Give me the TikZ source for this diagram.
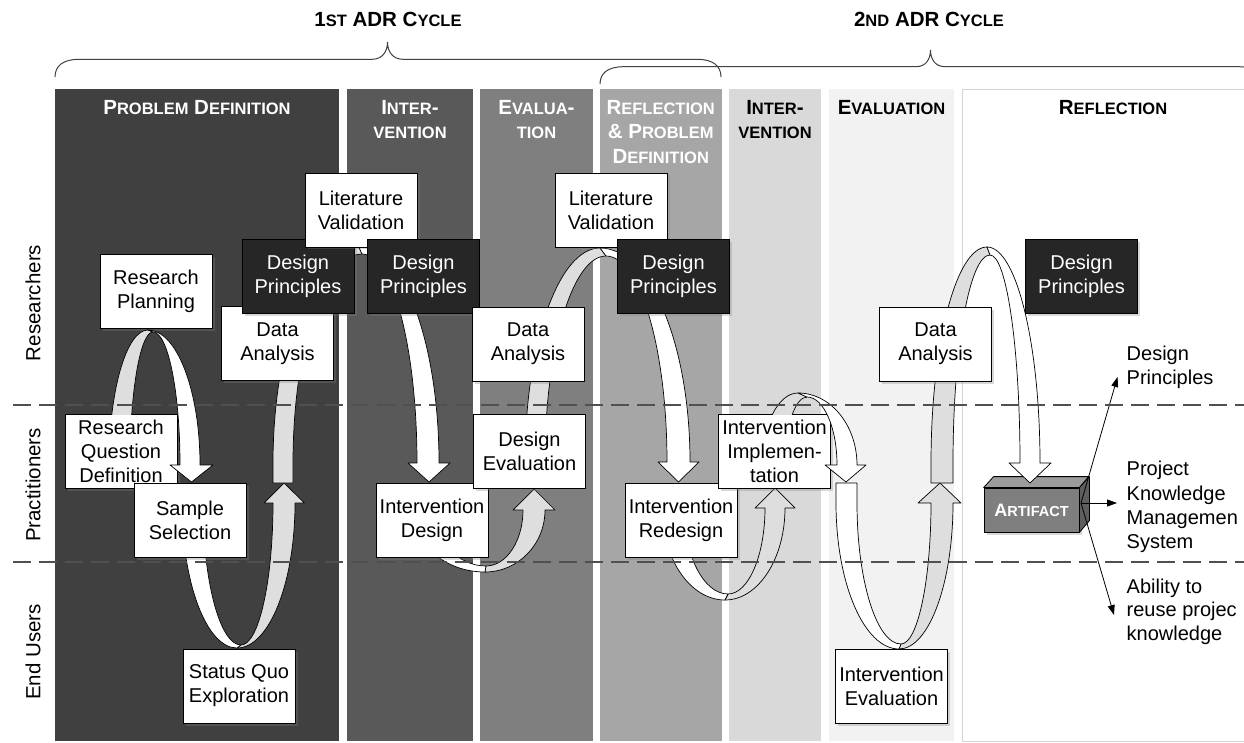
\documentclass[tikz,border=0pt]{standalone}
\usepackage{fontspec}
\setmainfont{Liberation Sans}
\usetikzlibrary{shadows,arrows.meta}
\definecolor{colA}{HTML}{404040}
\definecolor{colB}{HTML}{595959}
\definecolor{colC}{HTML}{7F7F7F}
\definecolor{colD}{HTML}{A6A6A6}
\definecolor{colE}{HTML}{D9D9D9}
\definecolor{colF}{HTML}{F2F2F2}
\definecolor{colG}{HTML}{D4D4D4}
\definecolor{bandgray}{HTML}{DEDEDE}
\definecolor{darkbox}{HTML}{262626}
\definecolor{dashgray}{HTML}{505050}
\definecolor{bracegray}{HTML}{404040}
\definecolor{artfront}{HTML}{7F7F7F}
\definecolor{arttop}{HTML}{9C9C9C}
\definecolor{artside}{HTML}{5E5E5E}
\newcommand\smc[1]{{\fontsize{16.5}{18}\selectfont #1}}
\newcommand\smcA[1]{{\fontsize{14.5}{16}\selectfont #1}}
\def\QV(#1,#2)(#3,#4){.. controls (#1,{#2+0.5523*(#4-#2)}) and ({#3+0.5523*(#1-#3)},#4) .. (#3,#4)}
\def\QH(#1,#2)(#3,#4){.. controls ({#1+0.5523*(#3-#1)},#2) and (#3,{#4+0.5523*(#2-#4)}) .. (#3,#4)}
\tikzset{
  box/.style={draw=black, line width=0.8pt, fill=white, minimum width=112pt, minimum height=74pt,
    inner sep=1pt, align=center, font=\fontsize{20}{24}\selectfont,
    drop shadow={shadow xshift=2.5pt, shadow yshift=-2.5pt, opacity=0.3}},
  dbox/.style={box, fill=darkbox, text=white},
  colhead/.style={anchor=base, inner sep=0pt, font=\bfseries\fontsize{20.5}{24}\selectfont},
  lane/.style={rotate=90, inner sep=0pt, font=\fontsize{20.5}{24}\selectfont},
  outlbl/.style={anchor=base west, inner sep=0pt, font=\fontsize{20}{24}\selectfont},
  bandG/.style={fill=bandgray, draw=black, line width=0.7pt, line join=round},
  bandW/.style={fill=white, draw=black, line width=0.7pt, line join=round},
  lanedash/.style={draw=dashgray, line width=1.2pt, dash pattern=on 18pt off 8pt},
  brace/.style={draw=bracegray, line width=1pt},
  thinarrow/.style={draw=black, line width=0.8pt, -{Triangle[length=10pt,width=7pt]}},
  artf/.style={draw=black, line width=0.8pt, fill=artfront, minimum width=95pt, minimum height=44pt,
    inner sep=0pt, text=white, font=\bfseries\fontsize{18}{20}\selectfont,
    drop shadow={shadow xshift=2.5pt, shadow yshift=-2.5pt, opacity=0.3}},
}
\begin{document}
\begin{tikzpicture}[x=1pt,y=-1pt]
\useasboundingbox (0,0) rectangle (1244,743);
\fill[white] (0,0) rectangle (1244,743);
% phase columns
\fill[colA] (55,89) rectangle (339,741);
\fill[colB] (347,89) rectangle (472.5,741);
\fill[colC] (480,89) rectangle (593,741);
\fill[colD] (600,89) rectangle (721.5,741);
\fill[colE] (729,89) rectangle (820.5,741);
\fill[colF] (829,89) rectangle (954,741);
\draw[colG, fill=white, line width=0.8pt] (962.5,89) rectangle (1280,741);
% column headers
\node[colhead, text=white] (hPD) at (197,114.3) {P\smc{ROBLEM} D\smc{EFINITION}};
\node[colhead, text=white] (hI1a) at (410,114.3) {I\smc{NTER}-};
\node[colhead, text=white] (hI1b) at (410,139) {\smc{VENTION}};
\node[colhead, text=white] (hE1a) at (536.5,114.3) {E\smc{VALUA}-};
\node[colhead, text=white] (hE1b) at (536.5,139) {\smc{TION}};
\node[colhead, text=white] (hRa) at (660.7,114.3) {R\smc{EFLECTION}};
\node[colhead, text=white] (hRb) at (660.7,138.7) {\& P\smc{ROBLEM}};
\node[colhead, text=white] (hRc) at (660.7,163.3) {D\smc{EFINITION}};
\node[colhead] (hI2a) at (775,114.3) {I\smc{NTER}-};
\node[colhead] (hI2b) at (775,139) {\smc{VENTION}};
\node[colhead] (hE2) at (891.5,114.3) {E\smc{VALUATION}};
\node[colhead] (hR2) at (1113,114.3) {R\smc{EFLECTION}};
% cycle titles and braces
\node[colhead] (t1) at (388,26.7) {1\smc{ST} ADR C\smc{YCLE}};
\node[colhead] (t2) at (929,26.7) {2\smc{ND} ADR C\smc{YCLE}};
\draw[brace] (55,77) .. controls (55,66) and (63,59.3) .. (79,59.3) -- (372,59.3)
  .. controls (382,59.3) and (387.5,52) .. (387.5,42) .. controls (387.5,52) and (393,59.3) .. (403,59.3)
  -- (697,59.3) .. controls (713,59.3) and (721,66) .. (721,77);
\draw[brace] (600,84) .. controls (600,73) and (608,66.7) .. (624,66.7) -- (916,66.7)
  .. controls (926,66.7) and (930.5,59) .. (930.5,50) .. controls (930.5,59) and (935,66.7) .. (945,66.7)
  -- (1238,66.7) .. controls (1254,66.7) and (1262,73) .. (1262,84);
% lane labels
\node[lane] (lR) at (33,303) {Researchers};
\node[lane] (lP) at (33,485) {Practitioners};
\node[lane] (lE) at (33,652) {End Users};
% artifact
\node[artf] (artifact) at (1031.5,510) {A\smcA{RTIFACT}};
\filldraw[fill=arttop, draw=black, line width=0.8pt, line join=round] (artifact.north west) -- ++(10,-11) -- ++(95,0) -- (artifact.north east) -- cycle;
\filldraw[fill=artside, draw=black, line width=0.8pt, line join=round] (artifact.north east) -- ++(10,-11) -- ++(0,44) -- (artifact.south east) -- cycle;
\coordinate (artsrc) at (1081,503);
\coordinate (tDP) at (1117.5,377);
\coordinate (tPK) at (1117,503);
\coordinate (tAB) at (1114,615);
\draw[thinarrow] (artsrc) -- (tDP);
\draw[thinarrow] (artsrc) -- (tPK);
\draw[thinarrow] (artsrc) -- (tAB);
% curved arrows behind boxes
% A2
\path[bandG] (237,648) \QH(237,648)(295,503) -- (304.5,503) -- (284,483) -- (264,503) -- (273,503) \QV(273,503)(241,645) -- cycle;
\path[bandW] (182,503) \QV(182,503)(237,648) -- (241,645) \QH(241,645)(203,503) -- cycle;
% A3
\path[bandG] (273,483) -- (273,463) \QV(273,463)(358,245) -- (362,254) \QH(362,254)(293,463) -- (293,483) -- cycle;
\path[bandW] (358,245) \QH(358,245)(439,463) -- (450,463) -- (429,482) -- (408,463) -- (417,463) \QV(417,463)(362,254) -- cycle;
% A4
\path[bandG] (485,572) \QH(485,572)(545,510) -- (555,510) -- (534,489) -- (513,510) -- (523,510) \QV(523,510)(486,566) -- cycle;
\path[bandW] (413,510) \QV(413,510)(485,572) -- (486,566) \QH(486,566)(435,510) -- cycle;
% A5
\path[bandG] (525,462) \QV(525,462)(600,248) -- (606,256) \QH(606,256)(545,462) -- cycle;
\path[bandW] (600,248) \QH(600,248)(690,462) -- (699,462) -- (678.5,482) -- (658,462) -- (667,462) \QV(667,462)(606,256) -- cycle;
% A6
\path[bandG] (725,600) \QH(725,600)(785,508) -- (795,508) -- (775,488) -- (755,508) -- (765,508) \QV(765,508)(728,594) -- cycle;
\path[bandW] (662,508) \QV(662,508)(725,600) -- (728,594) \QH(728,594)(684,508) -- cycle;
% A8
\path[bandG] (899,649) \QH(899,649)(953,503) -- (961,503) -- (940,483) -- (918,503) -- (931,503) \QV(931,503)(901,644) -- cycle;
\path[bandW] (836,483) -- (836,503) \QV(836,503)(899,649) -- (901,644) \QH(901,644)(857,503) -- (857,483) -- cycle;
% A9
\path[bandG] (931,483) -- (931,463) \QV(931,463)(987,247) -- (990,255) \QH(990,255)(953,463) -- (953,483) -- cycle;
\path[bandW] (987,247) \QH(987,247)(1040,463) -- (1051,463) -- (1030,483) -- (1009,463) -- (1020,463) \QV(1020,463)(990,255) -- cycle;
% boxes
\node[box] (rp) at (156,291.5) {Research\\Planning};
\node[box] (da1) at (277.5,343.5) {Data\\Analysis};
\node[dbox] (dp1) at (298,276) {Design\\Principles};
\node[box] (lv1) at (361,210) {Literature\\Validation};
\node[dbox] (dp2) at (423.5,276.5) {Design\\Principles};
\node[box] (rqd) at (121,451) {Research\\Question\\Definition};
% A1
\begin{scope}
\clip (0,0) rectangle (1244,414);
\path[bandG] (109,465) \QV(109,465)(148,330) -- (153,332) \QH(153,332)(130,465) -- cycle;
\end{scope}
\path[bandW] (148,330) \QH(148,330)(200,465) -- (213,465) -- (191.5,482) -- (170,465) -- (180,465) \QV(180,465)(153,332) -- cycle;
\node[box] (ss) at (190,520) {Sample\\Selection};
\node[box] (sqe) at (239,686) {Status Quo\\Exploration};
\node[box] (idn) at (432,520) {Intervention\\Design};
\node[box] (dev) at (529.5,451) {Design\\Evaluation};
\node[box] (da2) at (528,344) {Data\\Analysis};
\node[box] (lv2) at (611,210) {Literature\\Validation};
\node[dbox] (dp3) at (673.5,276.5) {Design\\Principles};
\node[box] (ir) at (681,520) {Intervention\\Redesign};
\node[box] (ii) at (774.5,451) {Intervention\\Implemen-\\tation};
% A7
\begin{scope}
\clip (0,0) rectangle (1244,414);
\path[bandG] (762,465) \QV(762,465)(798,393) -- (807,397) \QH(807,397)(785,465) -- cycle;
\end{scope}
\path[bandW] (798,393) \QH(798,393)(857,465) -- (866,465) -- (846,482) -- (825,465) -- (837,465) \QV(837,465)(807,397) -- cycle;
\node[box] (ie) at (891.5,686) {Intervention\\Evaluation};
\node[box] (da3) at (935.5,344) {Data\\Analysis};
\node[dbox] (dp4) at (1081.5,276.5) {Design\\Principles};
% outcome labels
\node[outlbl] (oDP1) at (1126.5,360.7) {Design};
\node[outlbl] (oDP2) at (1126.5,384.3) {Principles};
\node[outlbl] (oPK1) at (1126.5,475.7) {Project};
\node[outlbl] (oPK2) at (1126.5,500) {Knowledge};
\node[outlbl] (oPK3) at (1126.5,524.3) {Managemen};
\node[outlbl] (oPK4) at (1126.5,548.3) {System};
\node[outlbl] (oAB1) at (1126.5,593.3) {Ability to};
\node[outlbl] (oAB2) at (1126.5,616.7) {reuse projec};
\node[outlbl] (oAB3) at (1126.5,640.7) {knowledge};
% lane separators
\coordinate (dsA) at (13,405);
\coordinate (deA) at (1244,405);
\coordinate (dsB) at (13,562);
\coordinate (deB) at (1244,562);
\draw[lanedash] (dsA) -- (deA);
\draw[lanedash] (dsB) -- (deB);
\end{tikzpicture}
\end{document}
